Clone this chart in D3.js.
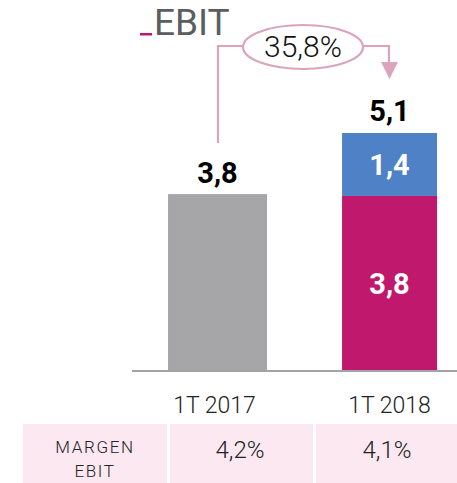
<!DOCTYPE html>
<html><head><meta charset="utf-8">
<script src="https://cdn.jsdelivr.net/npm/d3@7"></script>
<style>body{margin:0;background:#fff}svg{display:block}</style>
</head><body>
<script>
const categories = ["1T 2017", "1T 2018"];
const baseValues = [3.8, 3.76];
const addedValues = [0, 1.36];
const margins = ["4,2%", "4,1%"];
const growthLabel = "35,8%";
const title = "EBIT";
const rowLabel = ["MARGEN", "EBIT"];

const W = 457, H = 483;
const svg = d3.select("body").append("svg").attr("width", W).attr("height", H);
const fmt = v => d3.format(".1f")(v).replace(".", ",");

const x = d3.scaleBand().domain(categories).range([153.9, 453.2]).paddingInner(0.5).paddingOuter(0.12);
const y = d3.scaleLinear().domain([0, 5.12]).range([370, 133]);
const bws = [99, 95];
const cx = c => x(c) + x.bandwidth() / 2;
const colBase = ["#a6a6a8", "#c0186c"];

// bars
categories.forEach((c, i) => {
  svg.append("rect").attr("x", cx(c) - bws[i] / 2).attr("width", bws[i])
    .attr("y", y(baseValues[i])).attr("height", y(0) - y(baseValues[i])).attr("fill", colBase[i]);
  if (addedValues[i] > 0) {
    svg.append("rect").attr("x", cx(c) - bws[i] / 2).attr("width", bws[i])
      .attr("y", y(baseValues[i] + addedValues[i])).attr("height", y(0) - y(addedValues[i]))
      .attr("fill", "#4f81c7");
  }
});

// axis line
svg.append("line").attr("x1", 132).attr("x2", W).attr("y1", 371).attr("y2", 371)
  .attr("stroke", "#a3a3a3").attr("stroke-width", 2);

const ff = "Roboto, 'DejaVu Sans', sans-serif";
// value labels
svg.append("text").attr("x", cx(categories[0])).attr("y", y(baseValues[0]) - 11)
  .attr("text-anchor", "middle").attr("font-family", ff).attr("font-weight", 700)
  .attr("font-size", 29).attr("fill", "#000").text(fmt(baseValues[0]));
const c1 = cx(categories[1]);
svg.append("text").attr("x", c1).attr("y", y(baseValues[1] + addedValues[1]) - 12)
  .attr("text-anchor", "middle").attr("font-family", ff).attr("font-weight", 700)
  .attr("font-size", 29).attr("fill", "#000").text(fmt(baseValues[1] + addedValues[1]));
svg.append("text").attr("x", c1).attr("y", y(baseValues[1] + addedValues[1] / 2) + 11)
  .attr("text-anchor", "middle").attr("font-family", ff).attr("font-weight", 700)
  .attr("font-size", 29).attr("fill", "#fff").text(fmt(addedValues[1]));
svg.append("text").attr("x", c1).attr("y", y(baseValues[1] / 2) + 11)
  .attr("text-anchor", "middle").attr("font-family", ff).attr("font-weight", 700)
  .attr("font-size", 29).attr("fill", "#fff").text(fmt(baseValues[1]));

// category labels
categories.forEach((c, i) => {
  svg.append("text").attr("x", cx(c) + (i ? 0 : -3)).attr("y", 413).attr("text-anchor", "middle")
    .attr("font-family", ff).attr("font-weight", 300).attr("font-size", 23).attr("fill", "#222")
    .text(c);
});

// table row
const cells = [[23, 167], [170, 313], [316, 457]];
cells.forEach(([a, b]) => svg.append("rect").attr("x", a).attr("y", 424).attr("width", b - a)
  .attr("height", H - 424).attr("fill", "#fbe8f0"));
rowLabel.forEach((t, k) => svg.append("text").attr("x", 95).attr("y", 453 + k * 24)
  .attr("text-anchor", "middle").attr("font-family", ff).attr("font-weight", 300).attr("font-size", 17)
  .attr("letter-spacing", 1.6).attr("fill", "#222").text(t));
const mx = [240, 387];
margins.forEach((m, i) => svg.append("text").attr("x", mx[i])
  .attr("y", 458).attr("text-anchor", "middle").attr("font-family", ff).attr("font-weight", 300)
  .attr("font-size", 24).attr("fill", "#222").text(m));

// title
svg.append("rect").attr("x", 140).attr("y", 33).attr("width", 12).attr("height", 2.5).attr("fill", "#c0186c");
svg.append("text").attr("x", 154).attr("y", 35).attr("font-family", ff).attr("font-size", 37)
  .attr("fill", "#5a5e61").text(title);

// growth arrow
const pink = "#dba3bc";
const lx = 218, rx = 389, ly = 46;
svg.append("path").attr("d", `M${lx},143 V${ly} H243 M363,${ly} H${rx} V64`)
  .attr("fill", "none").attr("stroke", pink).attr("stroke-width", 2.2);
svg.append("path").attr("d", `M381,62 L398,62 L389.5,79 Z`).attr("fill", pink);
svg.append("ellipse").attr("cx", 303).attr("cy", 47).attr("rx", 60).attr("ry", 22)
  .attr("fill", "#fff").attr("stroke", pink).attr("stroke-width", 2.2);
svg.append("text").attr("x", 303).attr("y", 57).attr("text-anchor", "middle")
  .attr("font-family", ff).attr("font-weight", 300).attr("font-size", 30).attr("fill", "#111")
  .text(growthLabel);
</script>
</body></html>
